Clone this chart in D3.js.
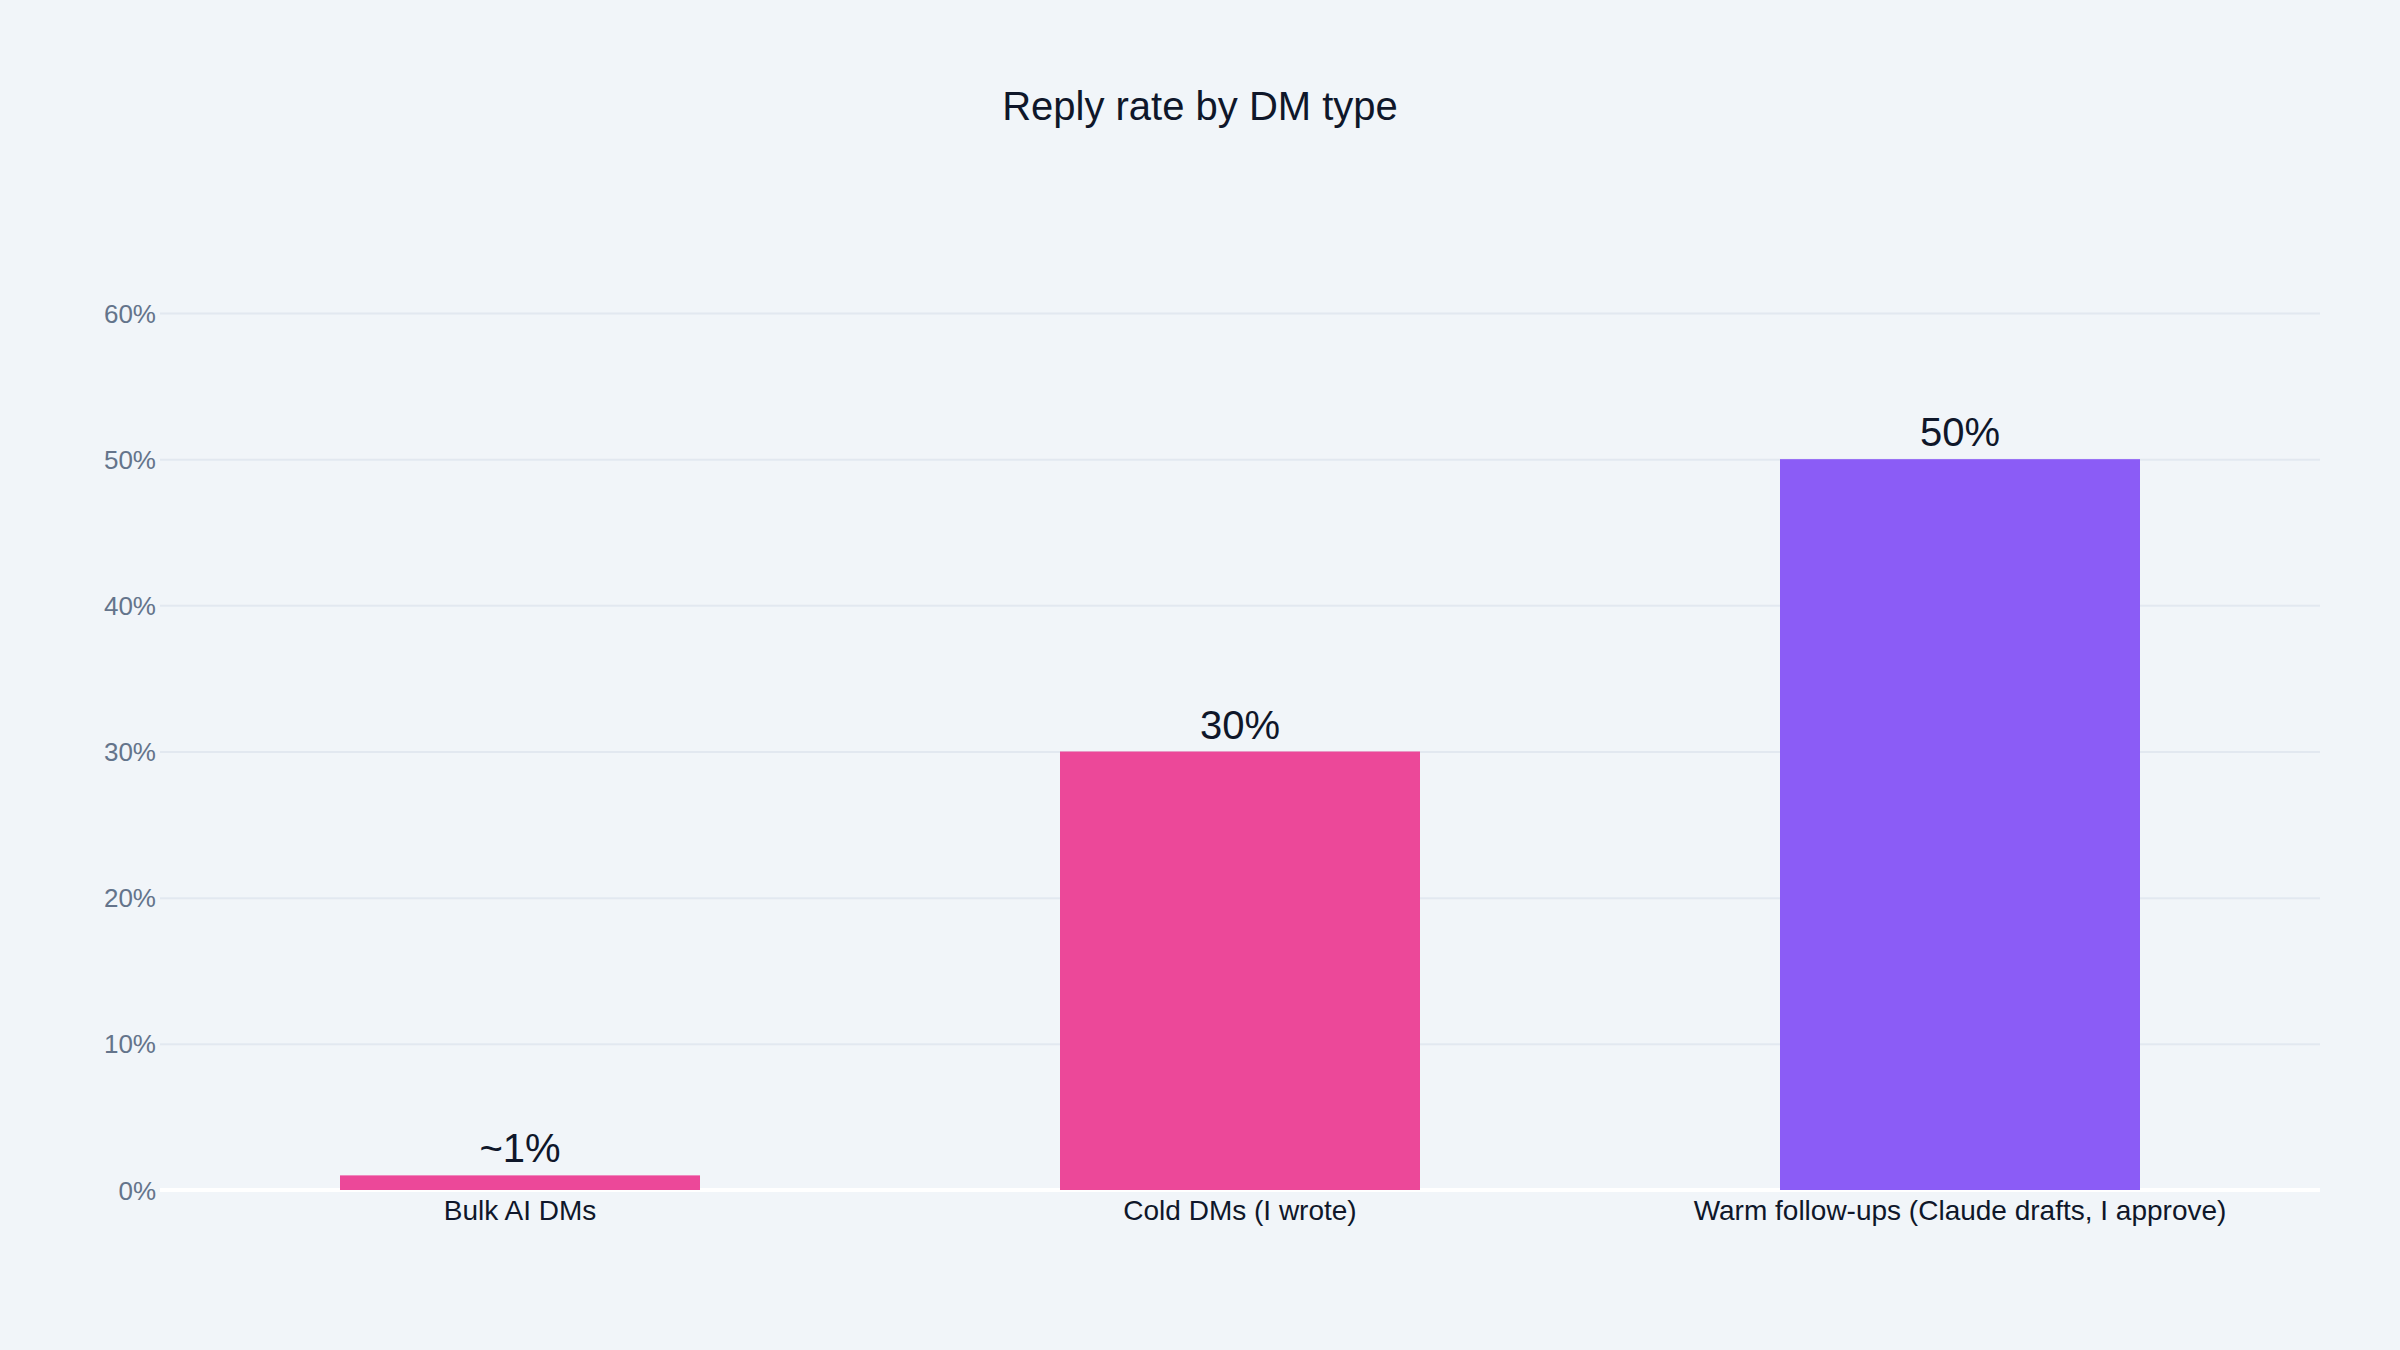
<!DOCTYPE html>
<html>
<head>
<meta charset="utf-8">
<script src="https://cdn.jsdelivr.net/npm/d3@7"></script>
<style>
  html, body { margin: 0; padding: 0; background: #f1f5f9; }
  svg { display: block; font-family: "Liberation Sans", Arial, Helvetica, sans-serif; }
</style>
</head>
<body>
<svg id="chart"></svg>
<script>
// data
var categories = ["Bulk AI DMs", "Cold DMs (I wrote)", "Warm follow-ups (Claude drafts, I approve)"];
var replyRates = [1, 30, 50];
var barLabels = ["~1%", "30%", "50%"];
var yTicks = [0, 10, 20, 30, 40, 50, 60];

var barColors = ["#ec4899", "#ec4899", "#8b5cf6"];

var svgWidth = 2400, svgHeight = 1350;
// note: "top" is a reserved window prop, so plot edges get their own names
var plotLeft = 160, plotRight = 2320, plotTop = 313, plotBottom = 1190;

var svg = d3.select("#chart")
    .attr("width", svgWidth)
    .attr("height", svgHeight);

svg.append("rect")
    .attr("width", svgWidth)
    .attr("height", svgHeight)
    .attr("fill", "#f1f5f9");

var xScale = d3.scaleBand()
    .domain(categories)
    .range([plotLeft, plotRight])
    .paddingInner(0.5)
    .paddingOuter(0.25);

var yScale = d3.scaleLinear()
    .domain([0, 60])
    .range([plotBottom, plotTop]);

// title
svg.append("text")
    .attr("x", svgWidth / 2)
    .attr("y", 120)
    .attr("text-anchor", "middle")
    .attr("font-size", 40)
    .attr("fill", "#0f172a")
    .text("Reply rate by DM type");

// y axis + gridlines
var yAxis = svg.append("g")
    .attr("transform", "translate(" + plotLeft + ",0)")
    .call(d3.axisLeft(yScale)
        .tickValues(yTicks)
        .tickSize(-(plotRight - plotLeft))
        .tickPadding(4)
        .tickFormat(function(d) { return d + "%"; }));

yAxis.select(".domain").remove();
yAxis.selectAll(".tick line")
    .attr("stroke", "#e2e8f0")
    .attr("stroke-width", 2);
yAxis.selectAll(".tick text")
    .attr("font-size", 26)
    .attr("fill", "#64748b")
    .attr("dy", "0.35em");

// zero line (under the bars, like plotly)
svg.append("line")
    .attr("x1", plotLeft)
    .attr("x2", plotRight)
    .attr("y1", yScale(0))
    .attr("y2", yScale(0))
    .attr("stroke", "#ffffff")
    .attr("stroke-width", 4);

// bars
svg.selectAll(".bar")
    .data(categories)
    .enter().append("rect")
    .attr("class", "bar")
    .attr("x", function(d) { return xScale(d); })
    .attr("y", function(d, i) { return yScale(replyRates[i]); })
    .attr("width", xScale.bandwidth())
    .attr("height", function(d, i) { return yScale(0) - yScale(replyRates[i]); })
    .attr("fill", function(d, i) { return barColors[i]; });

// value labels
svg.selectAll(".bar-label")
    .data(categories)
    .enter().append("text")
    .attr("class", "bar-label")
    .attr("x", function(d) { return xScale(d) + xScale.bandwidth() / 2; })
    .attr("y", function(d, i) { return yScale(replyRates[i]) - 13; })
    .attr("text-anchor", "middle")
    .attr("font-size", 40)
    .attr("fill", "#0f172a")
    .text(function(d, i) { return barLabels[i]; });

// x axis labels
var xAxis = svg.append("g")
    .attr("transform", "translate(0," + plotBottom + ")")
    .call(d3.axisBottom(xScale).tickSize(0).tickPadding(10));

xAxis.select(".domain").remove();
xAxis.selectAll(".tick text")
    .attr("font-size", 28)
    .attr("fill", "#0f172a")
    .attr("dy", "0.71em");
</script>
</body>
</html>
